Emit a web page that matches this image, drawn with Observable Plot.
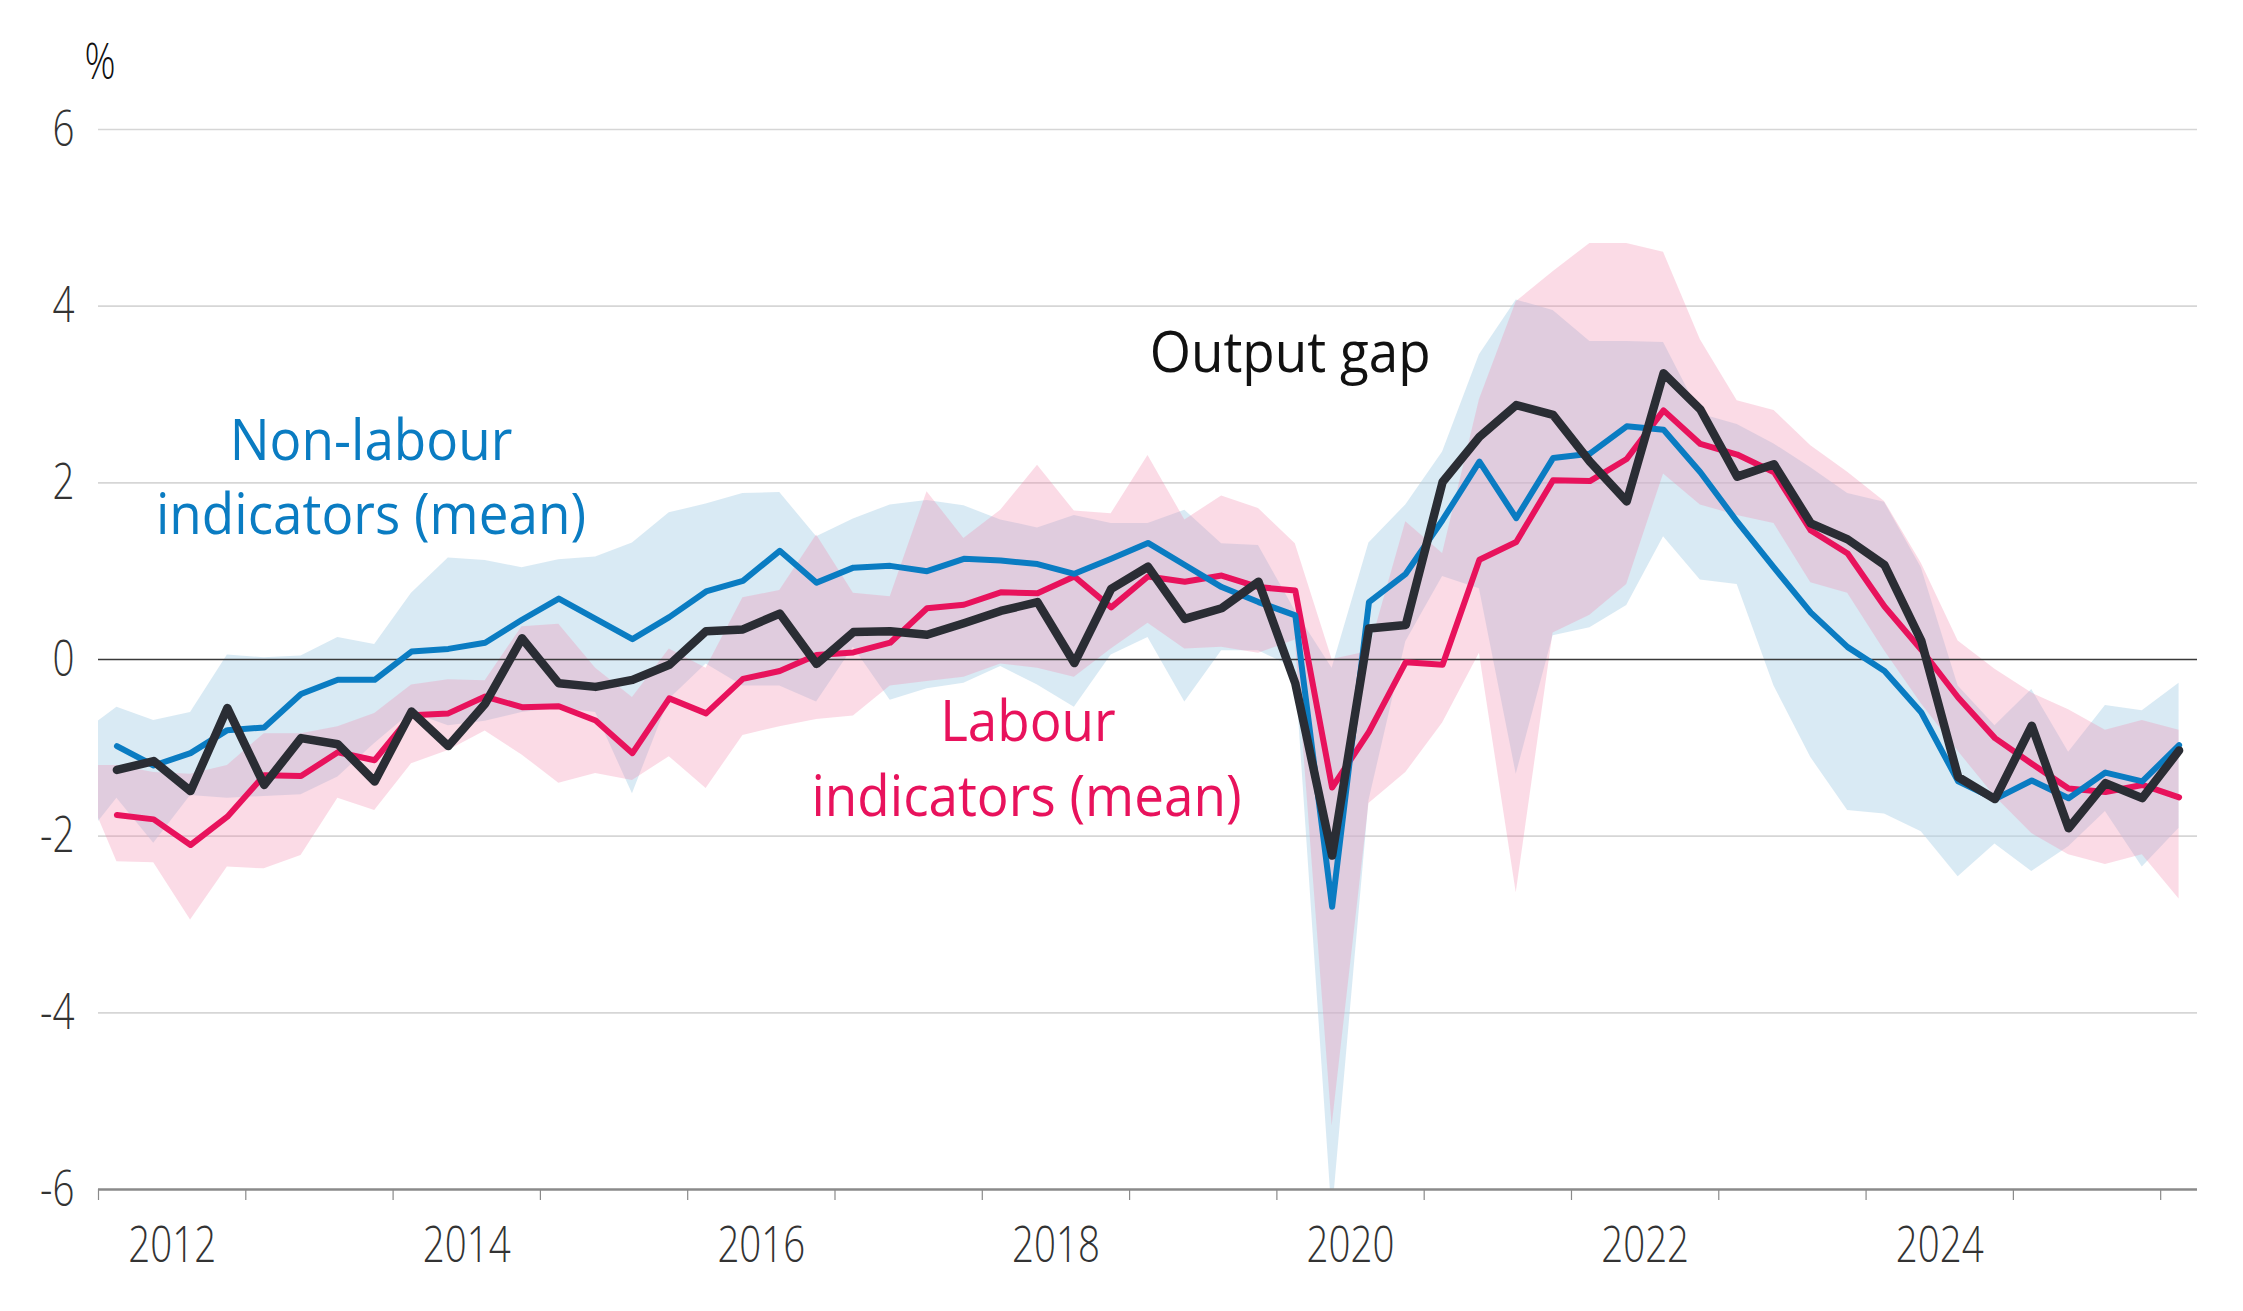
<!DOCTYPE html>
<html><head><meta charset="utf-8">
<script src="https://cdn.jsdelivr.net/npm/d3@7"></script>
<script src="https://cdn.jsdelivr.net/npm/@observablehq/plot@0.6"></script>
<style>
body{margin:0;background:#fff;}
#chart svg{display:block;}
</style></head><body><div id="chart"></div>
<script>
// ---- data (quarterly, % of potential output) ----
const firstYear = 2012, firstQuarter = 1;
const outputGap = [-1.25,-1.15,-1.49,-0.55,-1.42,-0.89,-0.96,-1.38,-0.59,-0.98,-0.50,0.24,-0.27,-0.31,-0.23,-0.06,0.32,0.34,0.52,-0.05,0.31,0.32,0.28,0.41,0.55,0.65,-0.04,0.80,1.05,0.46,0.58,0.88,-0.27,-2.22,0.35,0.39,2.01,2.52,2.88,2.77,2.24,1.79,3.24,2.83,2.07,2.21,1.54,1.36,1.07,0.21,-1.33,-1.58,-0.75,-1.91,-1.40,-1.57,-1.03];
const nonLabourMean = [-0.98,-1.20,-1.06,-0.80,-0.77,-0.39,-0.23,-0.23,0.09,0.12,0.19,0.45,0.69,0.46,0.23,0.48,0.77,0.89,1.23,0.87,1.04,1.06,1.00,1.14,1.12,1.08,0.97,1.14,1.32,1.07,0.82,0.65,0.50,-2.80,0.65,0.97,1.58,2.24,1.60,2.28,2.33,2.64,2.60,2.12,1.56,1.04,0.53,0.14,-0.13,-0.60,-1.38,-1.58,-1.37,-1.57,-1.28,-1.38,-0.97];
const labourMean = [-1.76,-1.81,-2.10,-1.78,-1.31,-1.32,-1.05,-1.14,-0.63,-0.61,-0.42,-0.54,-0.53,-0.69,-1.06,-0.44,-0.61,-0.22,-0.13,0.05,0.08,0.19,0.58,0.62,0.76,0.75,0.94,0.59,0.94,0.88,0.95,0.82,0.78,-1.45,-0.82,-0.03,-0.06,1.13,1.33,2.03,2.02,2.27,2.82,2.44,2.32,2.12,1.46,1.20,0.60,0.11,-0.43,-0.89,-1.18,-1.46,-1.50,-1.42,-1.56];
// ranges start one quarter earlier (2011 Q4)
const bandFirstYear = 2011, bandFirstQuarter = 4;
const nonLabourHigh = [-0.85,-0.54,-0.69,-0.60,0.05,0.02,0.04,0.25,0.17,0.75,1.15,1.12,1.04,1.13,1.16,1.32,1.66,1.76,1.88,1.89,1.39,1.59,1.75,1.80,1.74,1.58,1.49,1.63,1.54,1.54,1.69,1.31,1.29,0.55,-0.10,1.32,1.75,2.35,3.45,4.07,3.95,3.60,3.60,3.59,2.78,2.66,2.44,2.17,1.88,1.78,1.04,-0.30,-0.75,-0.34,-1.05,-0.52,-0.58,-0.27];
const nonLabourLow = [-2.10,-1.57,-2.08,-1.54,-1.57,-1.55,-1.53,-1.33,-0.95,-0.60,-0.75,-0.70,-0.60,-0.55,-0.60,-1.52,-0.45,-0.05,-0.30,-0.30,-0.48,0.14,-0.46,-0.33,-0.27,-0.08,-0.29,-0.54,0.05,0.25,-0.48,0.10,0.10,-0.10,-6.30,-1.60,0.20,0.94,0.80,-1.30,0.27,0.36,0.61,1.39,0.90,0.85,-0.30,-1.11,-1.71,-1.75,-1.95,-2.46,-2.09,-2.40,-2.12,-1.72,-2.35,-1.91];
const labourHigh = [-1.20,-1.20,-1.28,-1.30,-1.20,-0.84,-0.84,-0.76,-0.61,-0.29,-0.23,-0.24,0.37,0.40,-0.10,-0.43,0.12,-0.10,0.70,0.78,1.41,0.75,0.71,1.90,1.37,1.69,2.20,1.68,1.65,2.31,1.58,1.85,1.71,1.31,0.00,0.09,1.56,1.20,2.94,4.05,4.39,4.71,4.71,4.61,3.62,2.93,2.82,2.42,2.12,1.79,1.09,0.21,-0.11,-0.38,-0.57,-0.80,-0.69,-0.80];
const labourLow = [-1.30,-2.29,-2.30,-2.95,-2.35,-2.37,-2.22,-1.57,-1.71,-1.18,-1.03,-0.81,-1.08,-1.40,-1.29,-1.37,-1.10,-1.46,-0.86,-0.76,-0.68,-0.64,-0.30,-0.25,-0.20,-0.05,-0.10,-0.20,0.12,0.41,0.12,0.14,0.07,0.22,-5.28,-1.63,-1.28,-0.72,0.07,-2.64,0.30,0.50,0.85,2.10,1.75,1.63,1.54,0.87,0.75,0.10,-0.50,-1.04,-1.55,-1.97,-2.21,-2.32,-2.21,-2.71];
const yTicks = [-6,-4,-2,0,2,4,6];
const yearTicks = [2012,2013,2014,2015,2016,2017,2018,2019,2020,2021,2022,2023,2024,2025,2026];
const yearLabels = [2012,2014,2016,2018,2020,2022,2024];
const annotations = [
  {text:"Non-labour", x:2013.85, y:2.47, color:"#0a7cc2"},
  {text:"indicators (mean)", x:2013.85, y:1.63, color:"#0a7cc2"},
  {text:"Labour", x:2018.31, y:-0.72, color:"#e8125c"},
  {text:"indicators (mean)", x:2018.30, y:-1.56, color:"#e8125c"},
  {text:"Output gap", x:2020.09, y:3.46, color:"#111111"}
];

// ---- build tables ----
const qTime = (y0, q0, i) => { const k = (q0 - 1) + i; return y0 + Math.floor(k/4) + ((k % 4) + 0.5)/4; };
const lines = outputGap.map((v,i)=>({t:qTime(firstYear,firstQuarter,i), og:v, nl:nonLabourMean[i], lab:labourMean[i]}));
const bands = nonLabourHigh.map((v,i)=>({t:qTime(bandFirstYear,bandFirstQuarter,i), nlHi:v, nlLo:nonLabourLow[i], lHi:labourHigh[i], lLo:labourLow[i]}));

const FONT = "'Open Sans', 'Noto Sans', sans-serif";
const chart = Plot.plot({
  width: 2243, height: 1311,
  marginLeft: 98, marginRight: 46, marginTop: 129, marginBottom: 122,
  style: {fontFamily: FONT, fontSize: "50px", color: "#333", background: "#fff"},
  x: {domain: [2012, 2026.25]},
  y: {domain: [-6, 6]},
  marks: [
    Plot.ruleY(yTicks.filter(d => d !== 0 && d !== -6), {stroke: "#d6d6d6", strokeWidth: 1.6}),
    Plot.areaY(bands, {x: "t", y1: "nlLo", y2: "nlHi", fill: "rgb(179,213,233)", fillOpacity: 0.5, clip: true}),
    Plot.areaY(bands, {x: "t", y1: "lLo", y2: "lHi", fill: "rgb(242,135,172)", fillOpacity: 0.3, clip: true}),
    Plot.ruleY([0], {stroke: "#3a3a3a", strokeWidth: 1.6}),
    Plot.lineY(lines, {x: "t", y: "lab", stroke: "#e8125c", strokeWidth: 6, strokeLinejoin: "round"}),
    Plot.lineY(lines, {x: "t", y: "nl", stroke: "#0a7cc2", strokeWidth: 6, strokeLinejoin: "round"}),
    Plot.lineY(lines, {x: "t", y: "og", stroke: "#2a2d34", strokeWidth: 8.5, strokeLinejoin: "round"}),
    Plot.ruleY([-6], {stroke: "#8a8a8a", strokeWidth: 2.4}),
    Plot.axisX({ticks: yearTicks, tickSize: 11, tickFormat: () => "", stroke: "#8a8a8a", strokeWidth: 1.2}),
    Plot.axisX({ticks: yearLabels.map(d => d + 0.5), tickSize: 0, tickPadding: 37, tickFormat: d => String(Math.floor(d)), fontWeight: 300, fill: "#333", label: null}),
    Plot.axisY({ticks: yTicks, tickSize: 0, tickPadding: 24, tickFormat: d => String(d), fontWeight: 300, fill: "#333", label: null}),
    Plot.text(["%"], {x: 2012, y: 6, dx: -14, dy: -67, textAnchor: "start", fontWeight: 300, fill: "#111", fontSize: 50, className: "unit-label"}),
    Plot.text(annotations, {x: "x", y: "y", text: "text", fill: "color", fontSize: 57, textAnchor: "middle", className: "note-label"})
  ]
});
document.getElementById("chart").appendChild(chart);
// narrow the light tick labels to match the condensed face of the original
const squeeze = (sel, k) => chart.querySelectorAll(sel).forEach(t => {
  const w = t.getComputedTextLength();
  if (w > 0) {
    t.setAttribute("textLength", (w * k).toFixed(1));
    t.setAttribute("lengthAdjust", "spacingAndGlyphs");
  }
});
squeeze('g[aria-label="x-axis tick label"] text, g[aria-label="y-axis tick label"] text, .unit-label text', 0.77);
squeeze('.note-label text', 0.93);
</script></body></html>
